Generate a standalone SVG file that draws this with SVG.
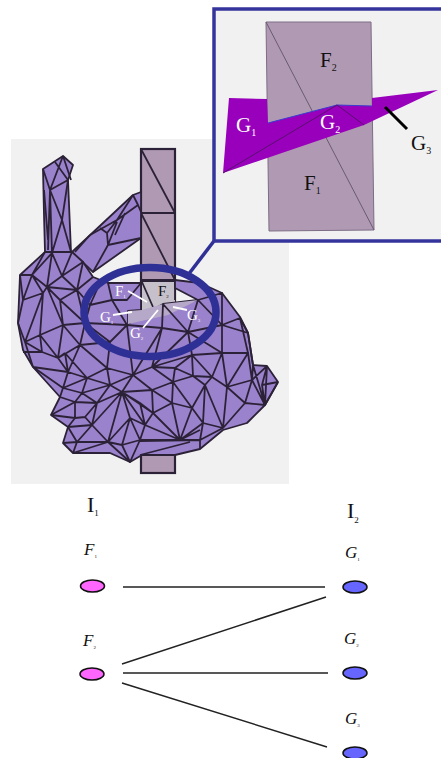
<svg xmlns="http://www.w3.org/2000/svg" width="441" height="758" viewBox="0 0 441 758">
<style>
.mesh{fill:none;stroke:#2c2238;stroke-width:1.8;stroke-linejoin:round}
.body{fill:#9b82cc;stroke:#2c2238;stroke-width:1.8;stroke-linejoin:round}
.pillar{fill:#b09ab3;stroke:#2c2238;stroke-width:2.2}
.ring{fill:none;stroke:#2f3096;stroke-width:7.5}
.frame{fill:#f1f1f1;stroke:#34349c;stroke-width:3.5}
.t{font-family:"Liberation Serif",serif}
.w{fill:#fff}
.k{fill:#111}
.wl{stroke:#fff;stroke-width:1.8;fill:none}
.i{font-style:italic}
.n{font-style:normal}
.pink{fill:#ff66ff;stroke:#111;stroke-width:1.5}
.blue{fill:#6666ff;stroke:#111;stroke-width:1.5}
.edge{stroke:#222;stroke-width:1.5;fill:none}
</style>
<rect width="441" height="758" fill="#fff"/>
<g id="bunny">
<rect x="11" y="139" width="278" height="345" fill="#f1f1f1"/>
<g id="pillar">
<rect class="pillar" x="141" y="149" width="34" height="324"/>
<path class="mesh" d="M141,149L175,213M141,213H175M141,213L175,280M141,280H175"/>
<path d="M142,282L175,280V306L163,304L128,324V311L142,310Z" fill="#c6c0ca"/>
<path class="mesh" d="M141,281H175M141,282V310M175,280V300M142,282L153,307"/>
</g>
<path class="body" d="M43,169L63,156L73,165L68,180L71,252L52,253L45,252L44,215Z"/>
<path class="body" d="M72,252L133,195L141,192V238L93,272Z"/>
<path class="body" d="M45,252L72,252L83,262L93,277L108,283L141,283V310L128,311V324L163,304L198,300L175,288L175,280L200,283L222,293L240,317L248,333L253,365L267,366L278,382L265,405L247,423L223,430L200,449L175,455L142,455L130,462L110,453L73,453L63,443L68,427L51,415L60,397L33,367L23,350L18,323L20,275Z"/>
<path d="M128,311L142,310L163,304L198,300L168,315L128,324Z" fill="#b6a8c8"/>
<path class="mesh" d="M43,169L50,190L52,253M63,156L50,190L68,180M55,162L68,180M63,156L71,180M50,190L62,220L52,253M62,220L71,252M68,180L62,220M44,190L48,240M50,190L48,250"/>
<path class="mesh" d="M133,195L138,205L117,220L107,233L108,245L141,238M138,205L141,212M117,220L90,235M117,222L108,245M125,213L115,235M108,245L93,272M90,235L75,252M100,228L107,233M133,195L117,220"/>
<path class="mesh" d="M20,275L32,275L45,252M32,275L52,253L62,276L47,287L32,275M52,253L47,287M72,252L62,276L83,262L77,290L62,276M77,290L93,277M47,287L77,290M20,275L23,300L32,275M23,300L43,293L47,287M43,293L32,275M23,300L18,323M43,293L25,342M43,293L40,335L25,342M47,287L63,325L40,335M47,287L60,300L63,325M77,290L60,300M77,290L85,323L60,300M63,325L85,323M77,290L90,305L85,323M90,305L100,283M90,305L112,300L108,283M112,300L127,325L110,342L85,323L90,305M112,300L127,300L141,283M127,325L85,323M63,325L80,345L110,342M85,323L80,345M40,335L42,352L25,342M40,335L58,358L42,352L23,352M40,335L63,325L58,358L80,345M58,358L65,353M65,353L68,372L80,345M65,353L87,378L68,372M80,345L107,368L87,378M110,342L107,368L133,375L127,325M127,325L162,328L133,375M162,328L152,367L133,375M188,332L152,367M162,328L188,332L192,355L152,367L175,368L192,355M163,304L188,332M163,304L162,328M198,300L188,332L222,325L198,300L222,293L222,325L240,318M222,325L222,353L188,332M222,353L192,355L212,377L222,353L248,353M212,377L193,376L192,355M193,376L175,368L173,382L152,367M173,382L193,376L205,385L212,377L227,387L222,353M227,387L248,353L240,318M248,353L252,380L227,387L245,403L252,380L253,365M252,380L267,366M252,380L265,405L245,403M227,387L223,428L245,403M223,428L205,385L203,423L223,428M205,385L192,408L173,382L172,403L192,408L203,423L180,440L192,408M172,403L180,440L153,413L172,403M173,382L152,390L172,403L153,413L152,390L133,375L122,392L152,390M122,392L153,413L140,403L122,392L110,385L133,375M107,368L110,385L87,378L82,393L110,385M87,378L63,388L82,393M68,372L63,388L60,397L75,402L82,393L97,403L110,385M68,372L33,367M58,358L68,372M63,388L33,367M75,402L97,403L85,417L75,418L75,402L51,415M51,415L75,418M85,417L92,425L97,403M92,425L68,427L75,418M85,417L92,425L77,442L68,427M68,427L77,442L63,443M77,442L73,453M77,442L108,442L92,425L122,392L97,403M122,392L108,442L130,418L122,392M130,418L145,425L122,392M130,418L122,445L108,442L130,462M122,445L130,462L140,440L122,445M130,418L140,440L145,425L153,413M145,425L140,403M140,440L180,440M145,425L180,440M140,441L200,440L200,449M180,440L200,430M153,413L180,440M180,440L200,440L203,423M200,440L223,428M140,455L190,442M108,442L73,453M248,333L222,325M253,365L248,333L240,318M265,405L253,365M267,366L265,405L278,382M267,366L262,385L278,382M262,385L265,405M18,323L25,342M33,367L25,342"/>
<g id="ring">
<ellipse class="ring" cx="150" cy="312" rx="66" ry="44.5"/>
<path d="M188,275L214,241" stroke="#2f3096" stroke-width="3.5" fill="none"/>
</g>
<g id="ring-labels">
<text class="t w" x="115" y="296" font-size="15">F<tspan font-size="5" dy="2">1</tspan></text>
<text class="t k" x="158" y="296" font-size="15">F<tspan font-size="5" dy="2">2</tspan></text>
<text class="t w" x="100" y="322" font-size="15">G<tspan font-size="5" dy="2">1</tspan></text>
<text class="t w" x="130" y="338" font-size="15">G<tspan font-size="5" dy="2">2</tspan></text>
<text class="t w" x="187" y="320" font-size="15">G<tspan font-size="5" dy="2">3</tspan></text>
<path class="wl" d="M128,291L147,302M113,315L132,312M143,328L158,310M173,307L187,310"/>
</g>
</g>
<g id="inset">
<rect class="frame" x="214" y="9" width="232" height="232"/>
<path d="M266,22H371L374,230L269,231Z" fill="#b09ab3" stroke="#7d6d85" stroke-width="1"/>
<path d="M266,22L374,230" stroke="#6a5a70" stroke-width="1" fill="none"/>
<path d="M229,98L267,99L268,123L337,105L372,106V98L438,90L364,125L223,173Z" fill="#9900bb"/>
<path d="M268,123L337,105L372,106" stroke="#3a3ad0" stroke-width="1" fill="none"/>
<path d="M223,173L337,105L364,125" stroke="#5a1070" stroke-width="1" fill="none"/>
<path d="M385,107L407,129" stroke="#000" stroke-width="3" fill="none"/>
<text class="t k" x="320" y="67" font-size="21">F<tspan font-size="10" dy="4">2</tspan></text>
<text class="t k" x="304" y="190" font-size="21">F<tspan font-size="10" dy="4">1</tspan></text>
<text class="t w" x="236" y="132" font-size="21">G<tspan font-size="10" dy="4">1</tspan></text>
<text class="t w" x="320" y="129" font-size="21">G<tspan font-size="10" dy="4">2</tspan></text>
<text class="t k" x="411" y="150" font-size="21">G<tspan font-size="10" dy="4">3</tspan></text>
</g>
<g id="connectors">
<path class="edge" d="M123,587L325,587M122,664L326,597M123,673L328,673M122,683L327,747"/>
</g>
<g id="I1"><text class="t k" x="87" y="512" font-size="22">I<tspan font-size="9" dy="4">1</tspan></text></g>
<g id="I2"><text class="t k" x="347" y="518" font-size="22">I<tspan font-size="9" dy="5">2</tspan></text></g>
<g id="F1"><text class="t k i" x="84" y="555" font-size="17">F<tspan class="n" font-size="5" dy="3">1</tspan></text><ellipse class="pink" cx="92.500" cy="586" rx="12" ry="6"/></g>
<g id="F2"><text class="t k i" x="83" y="646" font-size="17">F<tspan class="n" font-size="5" dy="3">2</tspan></text><ellipse class="pink" cx="92" cy="674" rx="12" ry="6"/></g>
<g id="G1"><text class="t k i" x="345" y="558" font-size="17">G<tspan class="n" font-size="5" dy="3">1</tspan></text><ellipse class="blue" cx="355" cy="587" rx="12" ry="6"/></g>
<g id="G2"><text class="t k i" x="344" y="644" font-size="17">G<tspan class="n" font-size="5" dy="3">2</tspan></text><ellipse class="blue" cx="355" cy="673" rx="12" ry="6"/></g>
<g id="G3"><text class="t k i" x="345" y="724" font-size="17">G<tspan class="n" font-size="5" dy="3">3</tspan></text><ellipse class="blue" cx="355" cy="753" rx="12" ry="6"/></g>
</svg>
